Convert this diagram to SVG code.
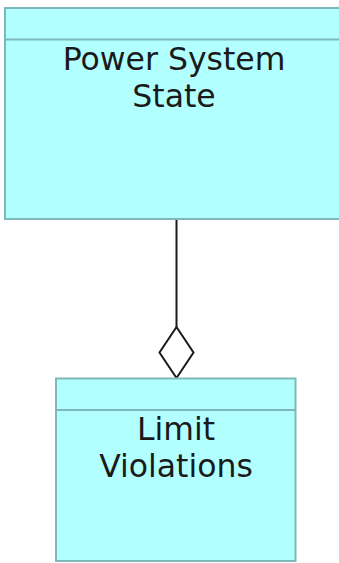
<svg xmlns="http://www.w3.org/2000/svg" width="339" height="563" viewBox="0 0 339 563">
  <style>
    .cls { fill: #b2ffff; stroke: #7fb8b8; stroke-width: 2; }
    .sep { stroke: #7fb8b8; stroke-width: 2; fill: none; }
    .lbl { font-family: "DejaVu Sans", sans-serif; font-size: 31.5px; fill: #1a1a1a; text-anchor: middle; }
    .edge { stroke: #1a1a1a; stroke-width: 2; fill: none; }
  </style>
  <rect width="339" height="563" fill="#ffffff"/>
  <g id="connectors">
    <line class="edge" x1="176.5" y1="219" x2="176.5" y2="327"/>
    <polygon class="edge" fill="#ffffff" points="176.5,327 193.5,352.5 176.5,378 159.5,352.5"/>
  </g>
  <g id="power-system-state">
    <rect class="cls" x="5" y="8" width="340" height="211"/>
    <line class="sep" x1="5" y1="39.5" x2="345" y2="39.5"/>
    <text class="lbl" x="174" y="70">Power System</text>
    <text class="lbl" x="174" y="107">State</text>
  </g>
  <g id="limit-violations">
    <rect class="cls" x="56" y="378.5" width="239.5" height="182.5"/>
    <line class="sep" x1="56" y1="410" x2="295.5" y2="410"/>
    <text class="lbl" x="176" y="440">Limit</text>
    <text class="lbl" x="176" y="477">Violations</text>
  </g>
</svg>
